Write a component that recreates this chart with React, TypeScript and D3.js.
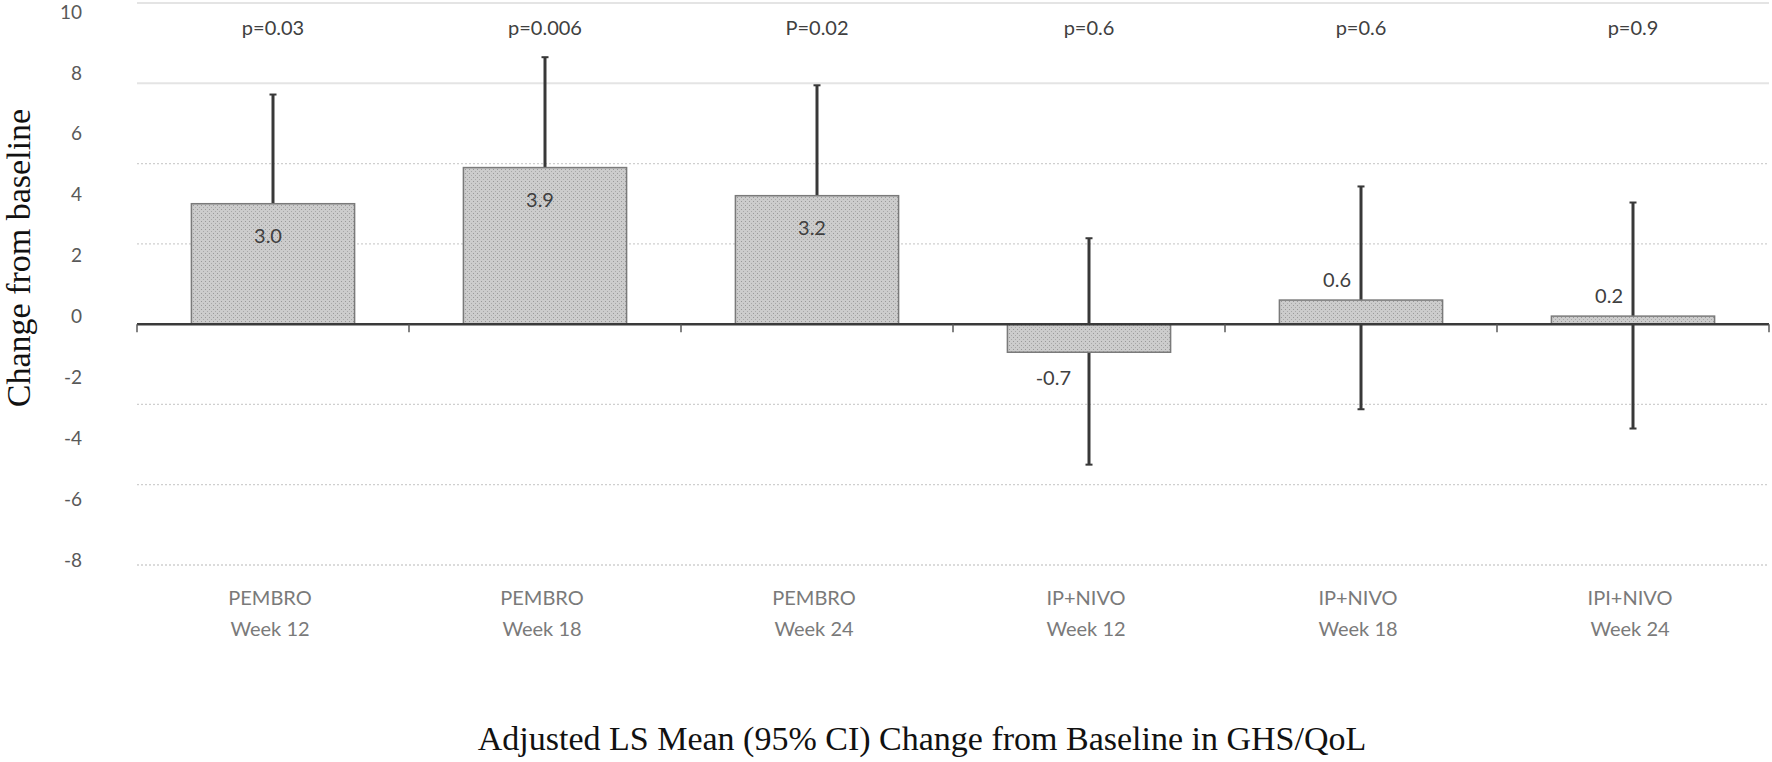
import * as d3 from "d3";

// groups along the x axis (two-line labels)
const groupTop = ["PEMBRO", "PEMBRO", "PEMBRO", "IP+NIVO", "IP+NIVO", "IPI+NIVO"];
const groupWeek = ["Week 12", "Week 18", "Week 24", "Week 12", "Week 18", "Week 24"];

// adjusted LS mean change and 95% CI
const lsMean = [3.0, 3.9, 3.2, -0.7, 0.6, 0.2];
const ciLow = [0.3, 1.15, 0.45, -3.5, -2.12, -2.6];
const ciHigh = [5.72, 6.65, 5.95, 2.14, 3.43, 3.03];
const pLabels = ["p=0.03", "p=0.006", "P=0.02", "p=0.6", "p=0.6", "p=0.9"];

// gridlines of the plot and the tick labels printed beside them
const gridValues = [8, 6, 4, 2, -2, -4, -6];
const tickLabels = [10, 8, 6, 4, 2, 0, -2, -4, -6, -8];

const W = 1772;
const H = 762;
const sans = "Lato, 'Open Sans', sans-serif";
const serif = "'Liberation Serif', 'DejaVu Serif', serif";

export default function App() {
    const ids = lsMean.map((_, i) => String(i));
    const x = d3.scaleBand().domain(ids).range([137, 1769]).padding(0);
    const y = d3.scaleLinear().domain([-6, 8]).range([565, 3]);
    // the printed tick labels are spread over the grid area
    const yLab = d3.scaleLinear().domain([-8, 10]).range([y(-6) - 5, y(8) + 9]);
    const barW = x.bandwidth() * 0.6;
    const [x0, x1] = x.range();

    return (
        <svg width={W} height={H} style={{position: "absolute", left: 0, top: 0, background: "#fff"}}>
            <defs>
                <pattern id="dots" width="4" height="4" patternUnits="userSpaceOnUse">
                    <rect width="4" height="4" fill="#cccccc"/>
                    <rect x="1" y="1" width="1" height="1" fill="#999999"/>
                    <rect x="3" y="3" width="1" height="1" fill="#a8a8a8"/>
                </pattern>
            </defs>

            {/* gridlines */}
            {gridValues.map(v => (
                <line key={v} x1={x0} x2={x1} y1={y(v)} y2={y(v)}
                      stroke={v >= 6 ? "#e4e4e4" : "#cfcfcf"}
                      strokeWidth={v >= 6 ? 2 : 1.3}
                      strokeDasharray={v >= 6 ? undefined : "2,2"}/>
            ))}

            {/* y tick labels */}
            {tickLabels.map(t => (
                <text key={t} x={82} y={yLab(t)} dy="0.35em" textAnchor="end"
                      fontFamily={sans} fontSize={19} fill="#595959">{t}</text>
            ))}

            {/* error bars (behind the bars) */}
            {ids.map((id, i) => {
                const cx = (x(id) as number) + x.bandwidth() / 2;
                return (
                    <g key={id} stroke="#383838">
                        <line x1={cx} x2={cx} y1={y(ciLow[i])} y2={y(ciHigh[i])} strokeWidth={3}/>
                        <line x1={cx - 3.5} x2={cx + 3.5} y1={y(ciLow[i])} y2={y(ciLow[i])} strokeWidth={2}/>
                        <line x1={cx - 3.5} x2={cx + 3.5} y1={y(ciHigh[i])} y2={y(ciHigh[i])} strokeWidth={2}/>
                    </g>
                );
            })}

            {/* bars */}
            {ids.map((id, i) => {
                const cx = (x(id) as number) + x.bandwidth() / 2;
                const v = lsMean[i];
                return (
                    <rect key={id} x={cx - barW / 2} width={barW}
                          y={Math.min(y(v), y(0))} height={Math.abs(y(v) - y(0))}
                          fill="url(#dots)" stroke="#7a7a7a" strokeWidth={1.5}/>
                );
            })}

            {/* zero axis with ticks at category boundaries */}
            <line x1={x0} x2={x1} y1={y(0)} y2={y(0)} stroke="#3a3a3a" strokeWidth={2.5}/>
            {ids.concat(["end"]).map((id, i) => {
                const bx = x0 + i * x.bandwidth();
                return <line key={id} x1={bx} x2={bx} y1={y(0)} y2={y(0) + 8}
                             stroke="#5a5a5a" strokeWidth={1.5}/>;
            })}

            {/* value labels */}
            {ids.map((id, i) => {
                const cx = (x(id) as number) + x.bandwidth() / 2;
                const v = lsMean[i];
                let lx = cx - 5, ly = y(v) + 32, anchor = "middle";
                if (v < 0) {
                    lx = cx - 18; ly = y(v) + 26; anchor = "end";
                } else if (v < 1) {
                    lx = cx - 10; ly = y(v) - 20; anchor = "end";
                }
                return (
                    <text key={id} x={lx} y={ly} dy="0.35em" textAnchor={anchor}
                          fontFamily={sans} fontSize={20} fill="#404040">{v.toFixed(1)}</text>
                );
            })}

            {/* p values */}
            {ids.map((id, i) => (
                <text key={id} x={(x(id) as number) + x.bandwidth() / 2} y={28} dy="0.35em"
                      textAnchor="middle" fontFamily={sans} fontSize={20} fill="#404040">{pLabels[i]}</text>
            ))}

            {/* category labels */}
            {ids.map((id, i) => {
                const cx = (x(id) as number) + x.bandwidth() / 2;
                return (
                    <g key={id} fontFamily={sans} fontSize={20} fill="#7a7a7a" textAnchor="middle">
                        <text x={cx - 3} y={598} dy="0.35em">{groupTop[i]}</text>
                        <text x={cx - 3} y={629} dy="0.35em">{groupWeek[i]}</text>
                    </g>
                );
            })}

            {/* axis titles */}
            <text transform="translate(30,258) rotate(-90)" textAnchor="middle"
                  fontFamily={serif} fontSize={34} fill="#111">Change from baseline</text>
            <text x={922} y={750} textAnchor="middle" fontFamily={serif} fontSize={34}
                  fill="#111">Adjusted LS Mean (95% CI) Change from Baseline in GHS/QoL</text>
        </svg>
    );
}
